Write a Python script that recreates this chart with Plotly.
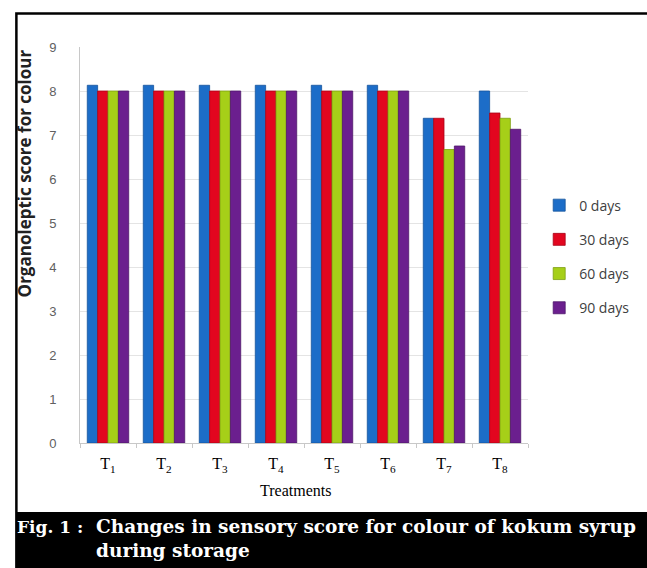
import plotly.graph_objects as go

# Treatments and organoleptic colour scores at each storage interval
treatments = ["T1", "T2", "T3", "T4", "T5", "T6", "T7", "T8"]
tick_labels = ["T<sub>%d</sub>" % i for i in range(1, 9)]
days_0 = [8.13, 8.13, 8.13, 8.13, 8.13, 8.13, 7.38, 8.0]
days_30 = [8.0, 8.0, 8.0, 8.0, 8.0, 8.0, 7.38, 7.5]
days_60 = [8.0, 8.0, 8.0, 8.0, 8.0, 8.0, 6.67, 7.38]
days_90 = [8.0, 8.0, 8.0, 8.0, 8.0, 8.0, 6.75, 7.13]

series = [
    ("0 days", days_0, "#1C6DC8", "#15549C"),
    ("30 days", days_30, "#E2061F", "#A80418"),
    ("60 days", days_60, "#A6CF18", "#7E9E12"),
    ("90 days", days_90, "#6B1F8E", "#4E166A"),
]

fig = go.Figure()
for name, vals, fill, edge in series:
    fig.add_trace(go.Bar(
        x=treatments, y=vals, name=name, legendgroup=name,
        marker=dict(color=fill, line=dict(color=edge, width=0.8)),
    ))

fig.update_layout(
    width=647, height=568,
    margin=dict(l=80, r=100, t=47, b=125),
    paper_bgcolor="white", plot_bgcolor="white",
    barmode="group", bargap=0.26, bargroupgap=0,
    showlegend=True,
    legend=dict(
        x=1.025, y=0.64, xanchor="left", yanchor="top",
        font=dict(family="Open Sans", size=14, color="#404040"),
        tracegroupgap=13, itemwidth=30,
    ),
    xaxis=dict(
        tickmode="array", tickvals=treatments, ticktext=tick_labels,
        tickfont=dict(family="Liberation Serif", size=16, color="black"),
        showline=True, linecolor="#C8C8C8", linewidth=1,
        ticks="outside", ticklen=4, tickcolor="#C8C8C8",
        tickson="boundaries", showgrid=False, ticklabelstandoff=6,
    ),
    yaxis=dict(
        range=[0, 9], dtick=1,
        tickfont=dict(family="Liberation Sans", size=13, color="#606060"),
        showgrid=True, gridcolor="#E4E4E4", gridwidth=1,
        showline=True, linecolor="#C8C8C8", linewidth=1,
        ticks="", ticklabelstandoff=20, zeroline=False,
    ),
    shapes=[
        # outer frame
        dict(type="rect", xref="paper", yref="paper",
             x0=-0.142, x1=1.4, y0=-0.3156, y1=1.0845,
             line=dict(color="black", width=2.5), fillcolor="rgba(0,0,0,0)",
             layer="below"),
        # caption band
        dict(type="rect", xref="paper", yref="paper",
             x0=-0.142, x1=1.4, y0=-0.3156, y1=-0.174,
             line=dict(width=0), fillcolor="black", layer="above"),
    ],
    annotations=[
        dict(text="<b>Organoleptic score for colour</b>", textangle=-90,
             xref="paper", yref="paper", x=-0.124, y=0.682,
             xanchor="center", yanchor="middle", showarrow=False,
             font=dict(family="Open Sans", size=17, color="#222222")),
        dict(text="Treatments", xref="paper", yref="paper",
             x=0.48, y=-0.12, xanchor="center", yanchor="middle",
             showarrow=False,
             font=dict(family="Liberation Serif", size=16, color="black")),
        dict(text="<b>Fig. 1 :</b>", xref="paper", yref="paper",
             x=-0.146, y=-0.2115, xanchor="left", yanchor="middle",
             showarrow=False,
             font=dict(family="DejaVu Serif", size=17, color="white")),
        dict(text="<b>Changes in sensory score for colour of kokum syrup</b>",
             xref="paper", yref="paper",
             x=0.032, y=-0.2115, xanchor="left", yanchor="middle",
             showarrow=False,
             font=dict(family="DejaVu Serif", size=18.5, color="white")),
        dict(text="<b>during storage</b>",
             xref="paper", yref="paper",
             x=0.032, y=-0.272, xanchor="left", yanchor="middle",
             showarrow=False,
             font=dict(family="DejaVu Serif", size=18.5, color="white")),
    ],
)

fig.write_html("out.html")
